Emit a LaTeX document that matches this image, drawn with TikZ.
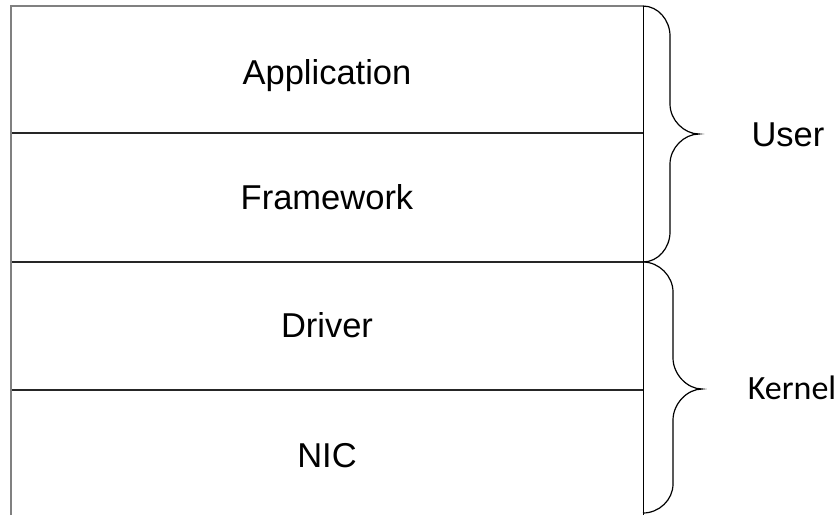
\documentclass[tikz,border=0pt]{standalone}
\usepackage{fontspec}
\setmainfont{Liberation Sans}
\newfontfamily\calibrifont{Carlito}
\begin{document}
\begin{tikzpicture}[x=1pt,y={(0pt,-1pt)},
  label/.style={inner sep=0pt, anchor=base, font=\fontsize{34.5}{40}\selectfont},
  sidelabel/.style={label},
  kernellabel/.style={inner sep=0pt, anchor=base, font=\calibrifont\fontsize{34}{40}\selectfont},
  outer/.style={draw=black!50, line width=2pt},
  edge/.style={draw=black, line width=1pt},
  divider/.style={draw=black!85, line width=2pt},
  bracepath/.style={draw=black, line width=1.2pt}]
\useasboundingbox[fill=white] (0,0) rectangle (840,515);

% corners of the layer stack
\coordinate (tl) at (11,6);
\coordinate (tr) at (643,6);
\coordinate (bl) at (11,515);
\coordinate (br) at (643,515);
\coordinate (d1l) at (11,133);  \coordinate (d1r) at (643,133);
\coordinate (d2l) at (11,262);  \coordinate (d2r) at (643,262);
\coordinate (d3l) at (11,390);  \coordinate (d3r) at (643,390);

% layer separators and frame
\draw[divider] (d1l) -- (d1r);
\draw[divider] (d2l) -- (d2r);
\draw[divider] (d3l) -- (d3r);
\draw[edge] (tr) -- (br);
\draw[outer] (bl) -- (tl) -- (tr);

% layer names
\node[label] (app) at (327,84) {Application};
\node[label] (fw)  at (327,209) {Framework};
\node[label] (drv) at (327,337) {Driver};
\node[label] (nic) at (327,467) {NIC};

% user-space brace
\coordinate (utip) at (699,134);
\coordinate (kend) at (643,513);
\draw[bracepath] (tr) .. controls (658,6) and (670,20) .. (670,36) -- (670,104)
  .. controls (670,120) and (684,134) .. (utip)
  .. controls (684,134) and (670,148) .. (670,164) -- (670,232)
  .. controls (670,248) and (658,262) .. (d2r);

% kernel-space brace
\coordinate (ktip) at (702,389);
\draw[bracepath] (d2r) .. controls (659,262) and (673,276) .. (673,292) -- (673,358)
  .. controls (673,374) and (687,389) .. (ktip)
  .. controls (687,389) and (673,404) .. (673,420) -- (673,484)
  .. controls (673,500) and (659,513) .. (kend);

\node[sidelabel] (user) at (788,146) {User};
\node[kernellabel] (kernel) at (792,399) {Kernel};
\end{tikzpicture}
\end{document}
